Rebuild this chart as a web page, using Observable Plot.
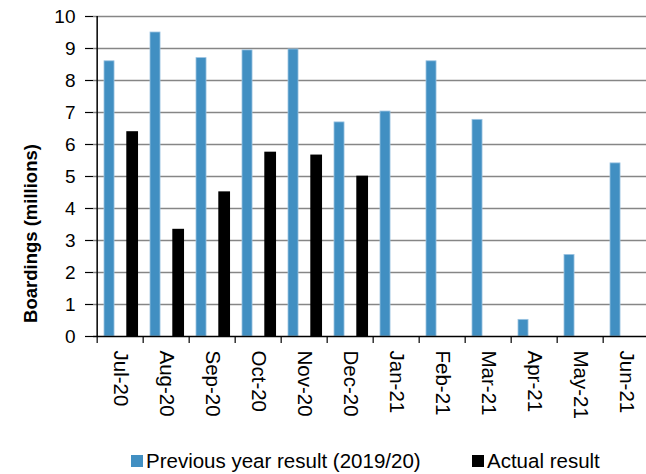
<!DOCTYPE html>
<html>
<head>
<meta charset="utf-8">
<script src="https://cdn.jsdelivr.net/npm/d3@7"></script>
<script src="https://cdn.jsdelivr.net/npm/@observablehq/plot@0.6"></script>
<style>
  html, body { margin: 0; padding: 0; background: #fff; }
  body { width: 646px; height: 474px; overflow: hidden; position: relative; font-family: "Liberation Sans", Arial, sans-serif; }
  #chart svg { display: block; max-width: none; }
  .legend { position: absolute; top: 449px; left: 0; width: 646px; height: 25px; font-size: 20.5px; color: #000; }
  .legend .item { position: absolute; top: 0; display: flex; align-items: center; height: 24px; white-space: nowrap; }
  .legend .sw { width: 12px; height: 12px; margin-right: 3px; }
</style>
</head>
<body>
<div id="chart"></div>
<div class="legend">
  <div class="item" style="left:131px"><span class="sw" style="background:#418fc2"></span><span id="l1"></span></div>
  <div class="item" style="left:472px"><span class="sw" style="background:#000"></span><span id="l2"></span></div>
</div>
<script>
const months = ["Jul-20","Aug-20","Sep-20","Oct-20","Nov-20","Dec-20","Jan-21","Feb-21","Mar-21","Apr-21","May-21","Jun-21"];
const previousYear = [8.6, 9.5, 8.7, 8.94, 8.97, 6.69, 7.03, 8.6, 6.77, 0.52, 2.55, 5.41];
const actual = [6.4, 3.35, 4.52, 5.76, 5.67, 5.01, null, null, null, null, null, null];
const yTicks = [0,1,2,3,4,5,6,7,8,9,10];
const seriesNames = ["Previous year result (2019/20)", "Actual result"];
const yTitle = "Boardings (millions)";

document.getElementById("l1").textContent = seriesNames[0];
document.getElementById("l2").textContent = seriesNames[1];

const prevData = months.map((m, i) => ({month: m, value: previousYear[i]}));
const actData = months.map((m, i) => ({month: m, value: actual[i]})).filter(d => d.value != null);

const width = 646, height = 440, marginLeft = 93, marginRight = -7, marginTop = 16, marginBottom = 104;
const bw = (width - marginRight - marginLeft) / months.length;

const chart = Plot.plot({
  width, height, marginLeft, marginRight, marginTop, marginBottom,
  style: {fontFamily: "'Liberation Sans', Arial, sans-serif", color: "#000", background: "#fff", overflow: "hidden"},
  x: {domain: months, padding: 0, label: null},
  y: {domain: [0, 10], label: null},
  marks: [
    Plot.ruleY(yTicks.filter(d => d > 0), {stroke: "#868686", strokeWidth: 1.7}),
    Plot.barY(prevData, {x: "month", y: "value", fill: "#418fc2", stroke: "#9cc4e2", strokeWidth: 0.8,
      insetLeft: 7, insetRight: bw - 17.7}),
    Plot.barY(actData, {x: "month", y: "value", fill: "#000",
      insetLeft: 29.3, insetRight: bw - 41.7}),
    Plot.ruleY([0], {stroke: "#000", strokeWidth: 1.5}),
    Plot.ruleX([months[0]], {dx: -bw / 2, stroke: "#000", strokeWidth: 1.5}),
    Plot.ruleX(months, {y1: 0, y2: 0, insetBottom: -7, dx: -bw / 2, stroke: "#000", strokeWidth: 1.2}),
    Plot.axisY({ticks: yTicks, tickSize: 8, tickPadding: 10, fontSize: 19, label: null, stroke: "#000", strokeWidth: 1.2}),
    Plot.axisX({tickSize: 0, tickPadding: 14, tickRotate: 90, fontSize: 20.5, label: null}),
    Plot.text([yTitle], {frameAnchor: "left", textAnchor: "middle", rotate: -90, dx: -62, dy: 57, fontSize: 18.5, fontWeight: "bold", text: d => d})
  ]
});
document.getElementById("chart").appendChild(chart);
</script>
</body>
</html>
